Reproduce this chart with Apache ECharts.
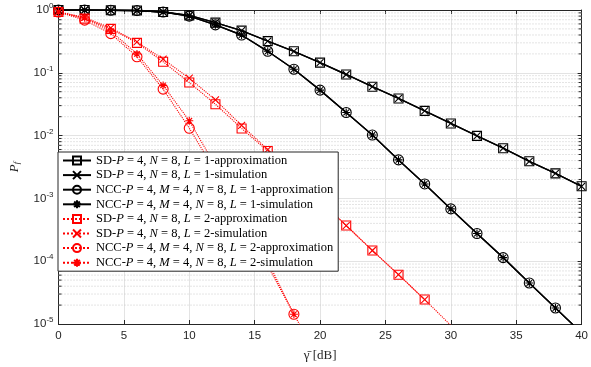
<!DOCTYPE html>
<html><head><meta charset="utf-8">
<script src="https://cdn.jsdelivr.net/npm/echarts@6/dist/echarts.min.js"></script>
<style>html,body{margin:0;padding:0;background:#fff}#c{width:591px;height:367px}</style>
</head><body><div id="c"></div>
<script>
// ---- data ----
const snr = [0,2,4,6,8,10,12,14,16,18,20,22,24,26,28,30,32,34,36,38,40];
const sdL1Approx  = [1.0,0.998,0.99,0.98,0.93,0.82,0.63,0.47,0.32,0.22,0.145,0.094,0.060,0.039,0.0248,0.0156,0.0099,0.0063,0.0039,0.0025,0.00156];
const sdL1Sim     = [1.0,0.998,0.99,0.98,0.93,0.82,0.63,0.47,0.32,0.22,0.145,0.094,0.060,0.039,0.0248,0.0156,0.0099,0.0063,0.0039,0.0025,0.00156];
const nccL1Approx = [1.0,0.998,0.99,0.98,0.93,0.80,0.58,0.40,0.22,0.114,0.053,0.0233,0.0102,0.0041,0.0017,6.8e-4,2.76e-4,1.14e-4,4.5e-5,1.8e-5,7.2e-6];
const nccL1Sim    = [1.0,0.998,0.99,0.98,0.93,0.80,0.58,0.40,0.22,0.114,0.053,0.0233,0.0102,0.0041,0.0017,6.8e-4,2.76e-4,1.14e-4,4.5e-5,1.8e-5,7.2e-6];
const sdL2Approx  = [0.93,0.73,0.50,0.30,0.15,0.070,0.0316,0.013,0.0057,0.0023,9.3e-4,3.7e-4,1.48e-4,6.1e-5,2.45e-5,9.5e-6,null,null,null,null,null];
const sdL2Sim     = [0.93,0.76,0.52,0.31,0.165,0.082,0.037,0.0145,0.006,0.0023,9.3e-4,3.7e-4,1.48e-4,6.1e-5,2.45e-5,null,null,null,null,null,null];
const nccL2Approx = [0.93,0.69,0.42,0.18,0.055,0.0131,0.0027,5.2e-4,8.5e-5,1.43e-5,2.5e-6,null,null,null,null,null,null,null,null,null,null];
const nccL2Sim    = [0.93,0.75,0.46,0.20,0.063,0.0172,0.0033,5.6e-4,1.0e-4,1.43e-5,null,null,null,null,null,null,null,null,null,null,null];
const xTicks = [0,5,10,15,20,25,30,35,40];
const yDecades = [1e-5,1e-4,1e-3,1e-2,1e-1,1];
const seriesNames = [
  'SD-P = 4, N = 8, L = 1-approximation',
  'SD-P = 4, N = 8, L = 1-simulation',
  'NCC-P = 4, M = 4, N = 8, L = 1-approximation',
  'NCC-P = 4, M = 4, N = 8, L = 1-simulation',
  'SD-P = 4, N = 8, L = 2-approximation',
  'SD-P = 4, N = 8, L = 2-simulation',
  'NCC-P = 4, M = 4, N = 8, L = 2-approximation',
  'NCC-P = 4, M = 4, N = 8, L = 2-simulation'
];
const seriesValues = [sdL1Approx, sdL1Sim, nccL1Approx, nccL1Sim, sdL2Approx, sdL2Sim, nccL2Approx, nccL2Sim];

// ---- styling ----
const minorVals = [];
for (let e = -5; e < 0; e++) for (let m = 2; m <= 9; m++) minorVals.push(m * Math.pow(10, e));

const X_SYM = 'path://M0,0L10,10M10,0L0,10';
const STAR_SYM = 'path://M5,0L5,10M0,5L10,5M1.5,1.5L8.5,8.5M8.5,1.5L1.5,8.5';
const markerDefs = [
  {sym:'rect', size:9, color:'#000', dash:'solid', w:1.4},
  {sym:X_SYM, size:7, color:'#000', dash:'solid', w:1.4},
  {sym:'circle', size:10, color:'#000', dash:'solid', w:1.4},
  {sym:STAR_SYM, size:8, color:'#000', dash:'solid', w:1.4},
  {sym:'rect', size:9, color:'#ff0000', dash:'dotted', w:1.1},
  {sym:X_SYM, size:7, color:'#ff0000', dash:'dotted', w:1.1},
  {sym:'circle', size:10, color:'#ff0000', dash:'dotted', w:1.1},
  {sym:STAR_SYM, size:8, color:'#ff0000', dash:'dotted', w:1.1}
];

const axisColor = '#262626';
const tickFont = {fontFamily:'Liberation Sans', fontSize:11.5, color:axisColor};

const series = seriesNames.map((name, i) => {
  const d = markerDefs[i];
  return {
    name, type:'line', z: 2,
    data: snr.map((x, k) => seriesValues[i][k] == null ? null : [x, seriesValues[i][k]]).filter(p => p),
    symbol: d.sym, symbolSize: d.size, showAllSymbol: true,
    lineStyle: {color:d.color, width:d.w, type:d.dash},
    itemStyle: {color:'rgba(0,0,0,0)', borderColor:d.color, borderWidth:1.1},
    emphasis: {disabled:true}, animation:false, clip:true
  };
});

series.unshift({
  type:'custom', z:1, silent:true, clip:false, animation:false,
  data: minorVals.map(v => [0, v]),
  encode: {x:0, y:1},
  renderItem: function (params, api) {
    const v = api.value(1);
    const p0 = api.coord([0, v]);
    const p1 = api.coord([40, v]);
    return {type:'group', children:[
      {type:'line', shape:{x1:p0[0], y1:p0[1], x2:p1[0], y2:p1[1]}, style:{stroke:'#c9c9c9', lineWidth:1, lineDash:[1,2]}},
      {type:'line', shape:{x1:p0[0], y1:p0[1], x2:p0[0]+3, y2:p0[1]}, style:{stroke:axisColor, lineWidth:1}},
      {type:'line', shape:{x1:p1[0]-3, y1:p1[1], x2:p1[0], y2:p1[1]}, style:{stroke:axisColor, lineWidth:1}}
    ]};
  }
});

const yLabelFmt = v => {
  const e = Math.round(Math.log10(v));
  return '10{sup|' + e + '}';
};
const yRich = {sup:{fontFamily:'Liberation Sans', fontSize:8, color:axisColor, padding:[0,0,8,0]}};

const chart = echarts.init(document.getElementById('c'), null, {renderer:'canvas'});
chart.setOption({
  backgroundColor:'#fff',
  animation:false,
  grid:{left:53, right:9, top:10, bottom:42, containLabel:false},
  xAxis:[{
    type:'value', min:0, max:40, interval:5, position:'bottom',
    name:'\u03B3\u0304 [dB]', nameLocation:'middle', nameGap:25,
    nameTextStyle:{fontFamily:'Liberation Serif', fontSize:13, color:axisColor},
    axisLine:{lineStyle:{color:axisColor, width:1}},
    axisTick:{inside:true, length:4, lineStyle:{color:axisColor}},
    axisLabel:Object.assign({margin:6, formatter: v => xTicks.includes(v) ? String(v) : ''}, tickFont),
    splitLine:{show:true, lineStyle:{color:'#e3e3e3', width:1}}
  },{
    type:'value', min:0, max:40, interval:5, position:'top',
    axisLine:{show:true, onZero:false, lineStyle:{color:axisColor, width:1}},
    axisTick:{inside:true, length:4, lineStyle:{color:axisColor}},
    axisLabel:{show:false}, splitLine:{show:false}
  }],
  yAxis:[{
    type:'log', logBase:10, min:1e-5, max:1, position:'left',
    name:'{i|P}{s|f}', nameLocation:'middle', nameGap:37, nameRotate:90,
    nameTextStyle:{fontFamily:'Liberation Serif', fontSize:12, color:axisColor,
      rich:{i:{fontFamily:'Liberation Serif', fontStyle:'italic', fontSize:13, color:axisColor},
            s:{fontFamily:'Liberation Serif', fontStyle:'italic', fontSize:9, color:axisColor, padding:[5,0,0,0]}}},
    axisLine:{show:true, lineStyle:{color:axisColor, width:1}},
    axisTick:{show:true, inside:true, length:4, lineStyle:{color:axisColor}},
    axisLabel:Object.assign({margin:5, formatter:yLabelFmt, rich:yRich}, tickFont),
    splitLine:{show:true, lineStyle:{color:'#e3e3e3', width:1}}
  },{
    type:'log', logBase:10, min:1e-5, max:1, position:'right',
    axisLine:{show:true, onZero:false, lineStyle:{color:axisColor, width:1}},
    axisTick:{show:true, inside:true, length:4, lineStyle:{color:axisColor}},
    axisLabel:{show:false}, splitLine:{show:false}
  }],
  legend:{
    z:20, zlevel:0,
    orient:'vertical', left:58, top:152, data:seriesNames,
    itemWidth:28, itemHeight:10, itemGap:1.6,
    padding:[2,5,2,4],
    backgroundColor:'#fff', borderColor:axisColor, borderWidth:1, borderRadius:0,
    selectedMode:false,
    formatter: n => n.replace(/([PMNL])(?= =)/g, '{i|$1}'),
    textStyle:{fontFamily:'Liberation Serif', fontSize:12.5, lineHeight:13, color:'#000',
      rich:{i:{fontFamily:'Liberation Serif', fontStyle:'italic', fontSize:12.5, lineHeight:13, color:'#000'}}}
  },
  series: series
});
</script></body></html>
